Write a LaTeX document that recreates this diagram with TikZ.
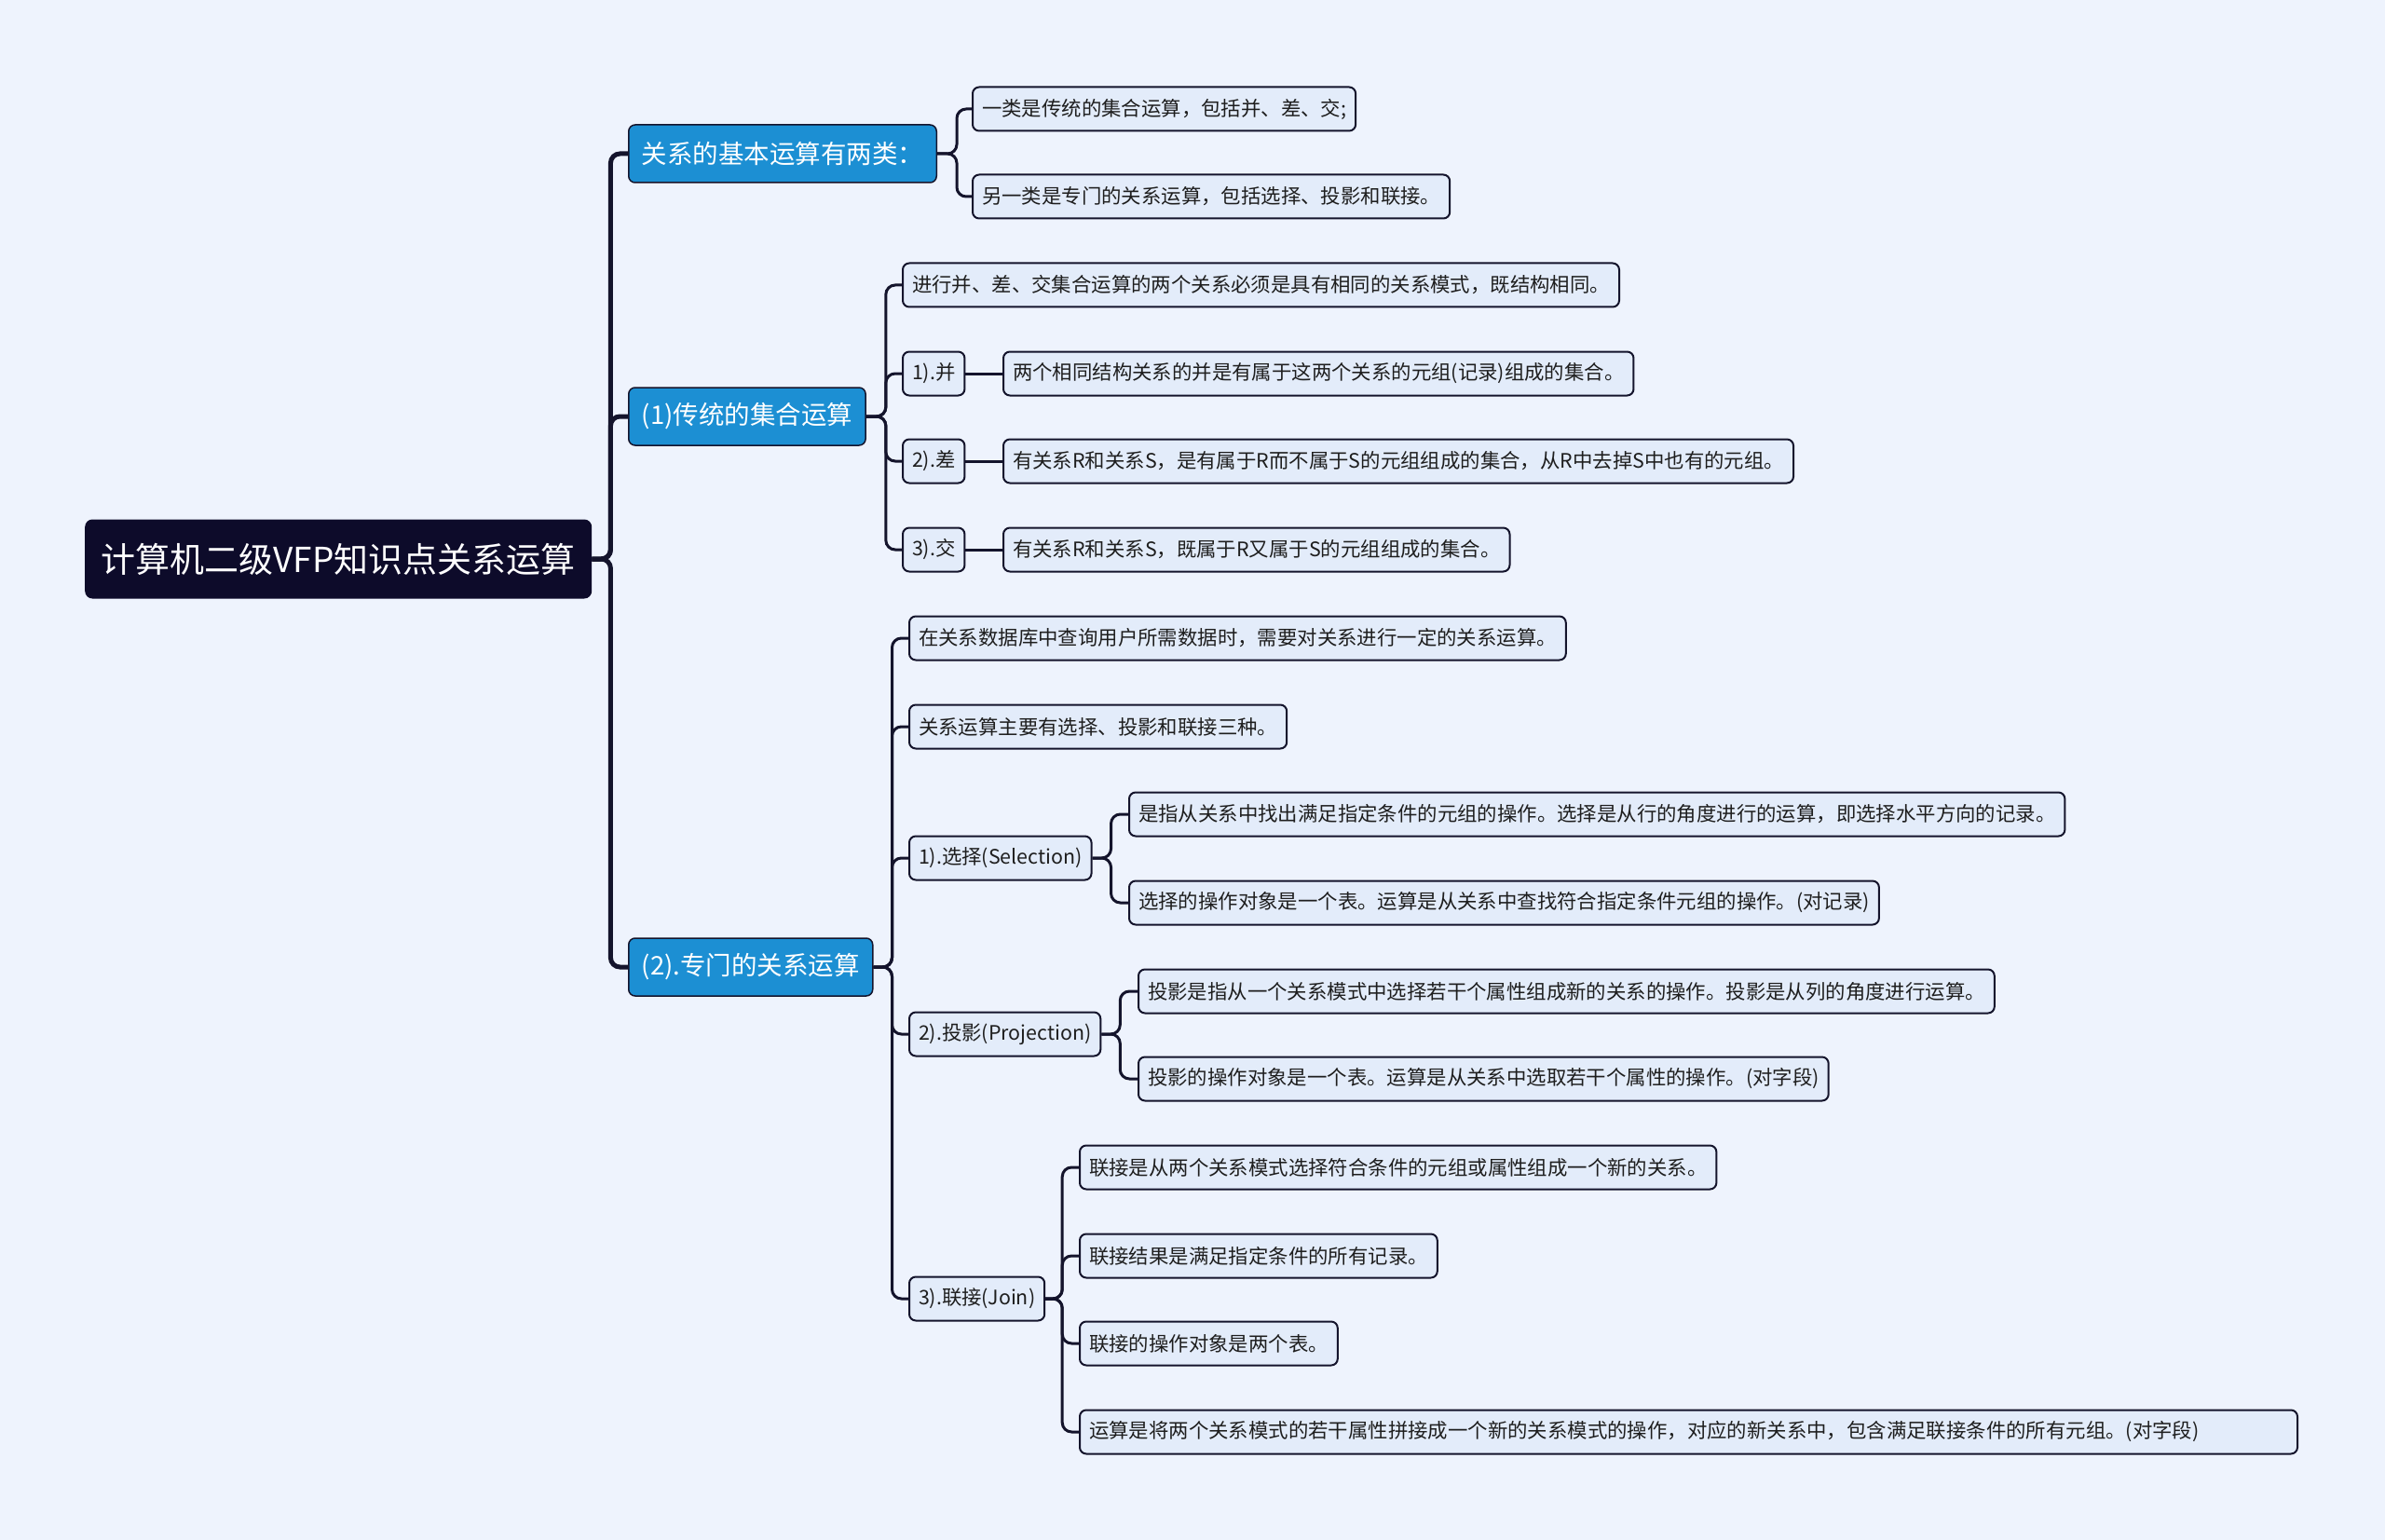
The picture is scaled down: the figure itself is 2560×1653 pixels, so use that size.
\documentclass[tikz,border=0pt]{standalone}
\usepackage{fontspec}
\setmainfont{Noto Sans CJK SC}
\usepackage{tikz}

\definecolor{bgblue}{HTML}{EEF3FD}
\definecolor{leafblue}{HTML}{E3ECFA}
\definecolor{topicblue}{HTML}{1C8FD3}
\definecolor{rootnavy}{HTML}{0D0B2A}
\definecolor{linenavy}{HTML}{14142C}
\definecolor{textdark}{HTML}{1E1E1E}

\tikzset{
  rootbox/.style={fill=rootnavy, text=white, rounded corners=8pt, anchor=west, minimum height=85pt, minimum width=544pt, font=\fontsize{37}{43}\selectfont},
  topicbox/.style={fill=topicblue, draw=linenavy, line width=1.5pt, text=white, rounded corners=7pt, anchor=west, minimum height=62pt, inner xsep=14pt, font=\fontsize{27.5}{32}\selectfont},
  leafbox/.style={fill=leafblue, draw=linenavy, line width=2pt, rounded corners=7pt, anchor=west, minimum height=47pt, inner xsep=10pt, text=textdark, font=\fontsize{21.4}{25}\selectfont},
  link/.style={draw=linenavy, line width=3pt, rounded corners=10pt},
  trunk/.style={link, line width=5pt}
}

\begin{document}
\begin{tikzpicture}[x=1pt, y=-1pt]

\fill[bgblue] (0,0) rectangle (2560,1653);
\useasboundingbox (0,0) rectangle (2560,1653);

\node[rootbox] (vfp) at (91,600) {计算机二级VFP知识点关系运算};

\node[topicbox] (basic) at (674,165) {关系的基本运算有两类：};
\node[topicbox] (setop) at (674,447) {(1)传统的集合运算};
\node[topicbox] (relop) at (674,1038) {(2).专门的关系运算};

\node[leafbox] (basicA) at (1043,117) {一类是传统的集合运算，包括并、差、交;};
\node[leafbox] (basicB) at (1043,211) {另一类是专门的关系运算，包括选择、投影和联接。};

\node[leafbox] (setNote) at (968,306) {进行并、差、交集合运算的两个关系必须是具有相同的关系模式，既结构相同。};
\node[leafbox] (unionL) at (968,401) {1).并};
\node[leafbox] (diffL) at (968,495) {2).差};
\node[leafbox] (interL) at (968,590) {3).交};
\node[leafbox] (unionT) at (1076,401) {两个相同结构关系的并是有属于这两个关系的元组(记录)组成的集合。};
\node[leafbox] (diffT) at (1076,495) {有关系R和关系S，是有属于R而不属于S的元组组成的集合，从R中去掉S中也有的元组。};
\node[leafbox] (interT) at (1076,590) {有关系R和关系S，既属于R又属于S的元组组成的集合。};

\node[leafbox] (relNoteA) at (975,685) {在关系数据库中查询用户所需数据时，需要对关系进行一定的关系运算。};
\node[leafbox] (relNoteB) at (975,780) {关系运算主要有选择、投影和联接三种。};
\node[leafbox] (selL) at (975,921) {1).选择(Selection)};
\node[leafbox] (projL) at (975,1110) {2).投影(Projection)};
\node[leafbox] (joinL) at (975,1394) {3).联接(Join)};

\node[leafbox] (selA) at (1211,874) {是指从关系中找出满足指定条件的元组的操作。选择是从行的角度进行的运算，即选择水平方向的记录。};
\node[leafbox] (selB) at (1211,969) {选择的操作对象是一个表。运算是从关系中查找符合指定条件元组的操作。(对记录)};

\node[leafbox] (projA) at (1221,1064) {投影是指从一个关系模式中选择若干个属性组成新的关系的操作。投影是从列的角度进行运算。};
\node[leafbox] (projB) at (1221,1158) {投影的操作对象是一个表。运算是从关系中选取若干个属性的操作。(对字段)};

\node[leafbox] (joinA) at (1158,1253) {联接是从两个关系模式选择符合条件的元组或属性组成一个新的关系。};
\node[leafbox] (joinB) at (1158,1348) {联接结果是满足指定条件的所有记录。};
\node[leafbox] (joinC) at (1158,1442) {联接的操作对象是两个表。};
\node[leafbox, text width=1287pt, align=left] (joinD) at (1158,1537) {运算是将两个关系模式的若干属性拼接成一个新的关系模式的操作，对应的新关系中，包含满足联接条件的所有元组。(对字段)};

\draw[trunk] (vfp.east) -- ++(20,0) |- (basic.west);
\draw[trunk] (vfp.east) -- ++(20,0) |- (setop.west);
\draw[trunk] (vfp.east) -- ++(20,0) |- (relop.west);

\draw[link] (basic.east) -- ++(21,0) |- (basicA.west);
\draw[link] (basic.east) -- ++(21,0) |- (basicB.west);

\draw[link] (setop.east) -- ++(21,0) |- (setNote.west);
\draw[link] (setop.east) -- ++(21,0) |- (unionL.west);
\draw[link] (setop.east) -- ++(21,0) |- (diffL.west);
\draw[link] (setop.east) -- ++(21,0) |- (interL.west);
\draw[link] (unionL) -- (unionT);
\draw[link] (diffL) -- (diffT);
\draw[link] (interL) -- (interT);

\draw[link] (relop.east) -- ++(20,0) |- (relNoteA.west);
\draw[link] (relop.east) -- ++(20,0) |- (relNoteB.west);
\draw[link] (relop.east) -- ++(20,0) |- (selL.west);
\draw[link] (relop.east) -- ++(20,0) |- (projL.west);
\draw[link] (relop.east) -- ++(20,0) |- (joinL.west);

\draw[link] (selL.east) -- ++(20,0) |- (selA.west);
\draw[link] (selL.east) -- ++(20,0) |- (selB.west);
\draw[link] (projL.east) -- ++(20,0) |- (projA.west);
\draw[link] (projL.east) -- ++(20,0) |- (projB.west);
\draw[link] (joinL.east) -- ++(18,0) |- (joinA.west);
\draw[link] (joinL.east) -- ++(18,0) |- (joinB.west);
\draw[link] (joinL.east) -- ++(18,0) |- (joinC.west);
\draw[link] (joinL.east) -- ++(18,0) |- (joinD.west);

\end{tikzpicture}
\end{document}
